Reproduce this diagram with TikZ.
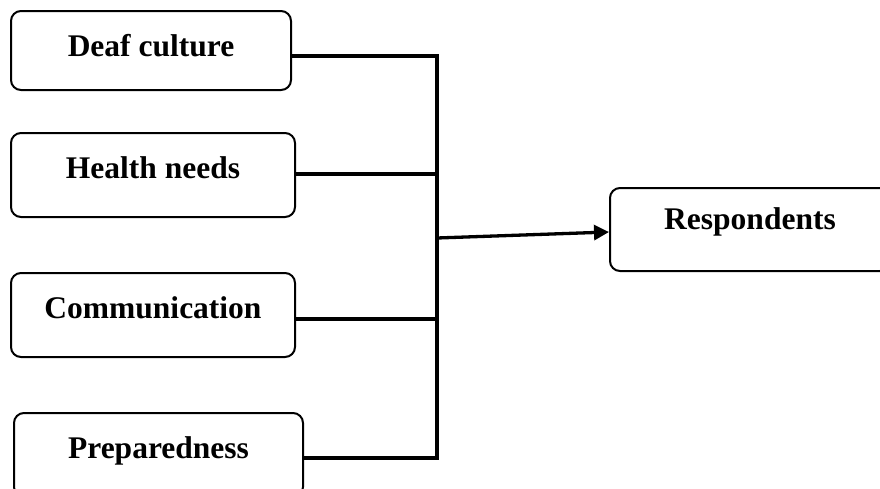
\documentclass[tikz,border=0pt]{standalone}
\usepackage{fontspec}
\setmainfont{Liberation Serif}
\usetikzlibrary{arrows.meta}
\begin{document}
\begin{tikzpicture}[x=1pt,y=-1pt,
  box/.style={draw=black, line width=2pt, rounded corners=10pt, inner sep=0pt,
    font=\fontsize{31.5}{36}\selectfont\bfseries, text height=21pt, text depth=14pt},
  conn/.style={draw=black, line width=3.3pt}]
\useasboundingbox (0,0) rectangle (880,488);
\node[box, minimum width=280pt, minimum height=79pt, text depth=9pt] (deaf) at (151,50.5) {Deaf culture};
\node[box, minimum width=284pt, minimum height=84pt] (health) at (153,175) {Health needs};
\node[box, minimum width=284pt, minimum height=84pt] (comm) at (153,315) {Communication};
\node[box, minimum width=289pt, minimum height=84pt] (prep) at (158.5,455) {Preparedness};
\node[box, minimum width=280pt, minimum height=83pt, text depth=21pt] (resp) at (750,229.5) {Respondents};
\coordinate (j1) at (437,56);
\coordinate (j2) at (437,174);
\coordinate (j3) at (437,319);
\coordinate (j4) at (437,458);
\coordinate (jm) at (437,238);
\draw[conn] (j1 -| deaf.east) -- (j1) -- (j4) -- (j4 -| prep.east);
\draw[conn] (j2 -| health.east) -- (j2);
\draw[conn] (j3 -| comm.east) -- (j3);
\draw[conn, -{Triangle[length=15pt,width=15pt]}] (jm) -- ([yshift=-2.5pt]resp.west);
\end{tikzpicture}
\end{document}
